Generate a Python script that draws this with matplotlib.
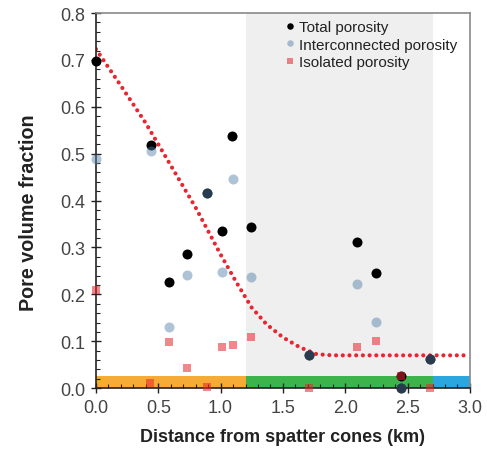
import matplotlib
matplotlib.use("Agg")
import matplotlib.pyplot as plt
from matplotlib.ticker import MultipleLocator, FormatStrFormatter

plt.rcParams['font.family'] = ['Liberation Sans', 'DejaVu Sans']

# Data
total_x = [0.0, 0.44, 0.585, 0.73, 0.89, 1.01, 1.09, 1.245, 1.71, 2.09, 2.25, 2.45, 2.45, 2.68]
total_y = [0.697, 0.518, 0.227, 0.286, 0.417, 0.335, 0.537, 0.344, 0.071, 0.312, 0.245, 0.027, 0.0, 0.063]

inter_x = [0.0, 0.44, 0.585, 0.73, 0.89, 1.01, 1.10, 1.245, 1.71, 2.09, 2.25, 2.45, 2.68]
inter_y = [0.489, 0.506, 0.131, 0.242, 0.417, 0.248, 0.447, 0.236, 0.071, 0.223, 0.142, 0.0, 0.063]

iso_x = [0.0, 0.435, 0.585, 0.73, 0.888, 1.013, 1.10, 1.245, 1.71, 2.09, 2.25, 2.45, 2.68]
iso_y = [0.210, 0.010, 0.099, 0.044, 0.002, 0.087, 0.091, 0.109, 0.001, 0.088, 0.101, 0.027, 0.001]

trend_x = [0.0, 0.2, 0.4, 0.6, 0.8, 1.0, 1.128, 1.249, 1.369, 1.502, 1.636, 1.77, 1.90, 3.0]
trend_y = [0.723, 0.645, 0.565, 0.475, 0.385, 0.285, 0.225, 0.172, 0.136, 0.108, 0.087, 0.0725, 0.070, 0.070]

zone_edges = [0.0, 1.2, 2.7, 3.0]
zone_colors = ['#F5AB35', '#3CB44B', '#2BA6DE']
zone_height = 0.025

fig = plt.figure(figsize=(4.87, 4.52), dpi=100)
ax = fig.add_axes([0.197, 0.139, 0.768, 0.830])

ax.axvspan(zone_edges[1], zone_edges[2], color='#EFEFEF', zorder=0, lw=0)
for i, c in enumerate(zone_colors):
    ax.fill_between([zone_edges[i], zone_edges[i + 1]], 0, zone_height, color=c, lw=0, zorder=1)

ax.plot(trend_x, trend_y, color='#E8262F', lw=3.0, ls=(0, (0.01, 1.6)), zorder=2,
        dash_capstyle='round', solid_capstyle='round', solid_joinstyle='round')

ax.plot(total_x, total_y, 'o', color='black', ms=7.2, mew=0, zorder=3, label='Total porosity',
        clip_on=False)
ax.plot(inter_x, inter_y, 'o', color=(85/255, 128/255, 170/255), alpha=0.47, ms=7.2, mew=0, zorder=4,
        label='Interconnected porosity', clip_on=False)
ax.plot(iso_x, iso_y, 's', color='#E8242C', alpha=0.55, ms=6.4, mew=0, zorder=5, label='Isolated porosity',
        clip_on=False)

ax.set_xlim(0, 3.0)
ax.set_ylim(0, 0.8)
ax.xaxis.set_major_locator(MultipleLocator(0.5))
ax.xaxis.set_minor_locator(MultipleLocator(0.1))
ax.yaxis.set_major_locator(MultipleLocator(0.1))
ax.yaxis.set_minor_locator(MultipleLocator(0.02))
ax.xaxis.set_major_formatter(FormatStrFormatter('%.1f'))
ax.yaxis.set_major_formatter(FormatStrFormatter('%.1f'))
ax.tick_params(which='major', direction='inout', length=7, width=1, labelsize=13, colors='#222222',
               labelcolor='#444444', pad=4)
ax.tick_params(which='minor', direction='in', length=3, width=0.8, colors='#222222')

for s in ['left', 'bottom']:
    ax.spines[s].set_color('#222222')
    ax.spines[s].set_linewidth(1.2)
for s in ['top', 'right']:
    ax.spines[s].set_color('#8a8a8a')
    ax.spines[s].set_linewidth(1.2)

ax.set_xlabel('Distance from spatter cones (km)', fontsize=13, fontweight='bold', color='#222222', labelpad=9)
ax.set_ylabel('Pore volume fraction', fontsize=14.2, fontweight='bold', color='#222222')
ax.yaxis.set_label_coords(-0.156, 0.47)

leg = ax.legend(loc='upper left', bbox_to_anchor=(0.485, 1.005), frameon=False, fontsize=11,
                handlelength=0.5, handletextpad=0.3, labelspacing=0.22, borderaxespad=0.2,
                markerscale=0.65)
for t in leg.get_texts():
    t.set_color('#222222')

fig.savefig('out.png', dpi=100)
